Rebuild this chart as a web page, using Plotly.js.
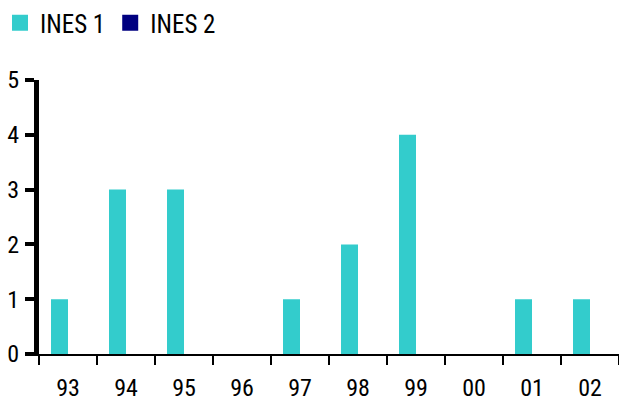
<!DOCTYPE html>
<html>
<head>
<meta charset="utf-8">
<script src="https://cdn.plot.ly/plotly-3.0.1.min.js"></script>
<style>html,body{margin:0;padding:0;background:#fff;}#chart{width:619px;height:405px;}</style>
</head>
<body>
<div id="chart"></div>
<script>
var years = ["93","94","95","96","97","98","99","00","01","02"];
var ines1 = [1,3,3,0,1,2,4,0,1,1];
var ines2 = [0,0,0,0,0,0,0,0,0,0];
var seriesNames = ["INES 1","INES 2"];
var colors = ["#33CCCC","#000080"];
var yTicks = [0,1,2,3,4,5];

var FONT = '"Liberation Sans Narrow", "Roboto Condensed", "DejaVu Sans Condensed", sans-serif';

var data = [
  {type:'bar', name:seriesNames[0], x:years, y:ines1, marker:{color:colors[0]}, showlegend:false},
  {type:'bar', name:seriesNames[1], x:years, y:ines2, marker:{color:colors[1]}, showlegend:false},
  {type:'scatter', mode:'markers', name:seriesNames[0], x:[null], y:[null], marker:{symbol:'square', size:17, color:colors[0]}, showlegend:true, hoverinfo:'skip'},
  {type:'scatter', mode:'markers', name:seriesNames[1], x:[null], y:[null], marker:{symbol:'square', size:17, color:colors[1]}, showlegend:true, hoverinfo:'skip'}
];

var layout = {
  width:619, height:405,
  margin:{l:39, r:0, t:80, b:51, pad:0},
  paper_bgcolor:'#fff', plot_bgcolor:'#fff',
  font:{family:FONT, size:24, color:'#000'},
  barmode:'group', bargap:0.414, bargroupgap:0,
  showlegend:true,
  legend:{orientation:'h', xref:'container', yref:'container', x:0, y:1, xanchor:'left', yanchor:'top',
          itemsizing:'trace', itemwidth:30,
          font:{family:FONT, size:25, color:'#000'}, itemclick:false, traceorder:'normal', bgcolor:'rgba(0,0,0,0)'},
  xaxis:{type:'category', categoryarray:years, range:[-0.5,9.5], tickson:'boundaries', ticks:'outside', ticklen:9, tickwidth:2, tickcolor:'#000',
         showline:true, linecolor:'#000', linewidth:2, showgrid:false, zeroline:false,
         ticklabelstandoff:11, tickfont:{family:FONT, size:24, color:'#000'}},
  yaxis:{range:[0,5], tickvals:yTicks, ticktext:yTicks.map(String), ticks:'outside', ticklen:9, tickwidth:4, tickcolor:'#000',
         showline:true, linecolor:'#000', linewidth:5, showgrid:false, zeroline:false,
         ticklabelstandoff:1, tickfont:{family:FONT, size:24, color:'#000'}}
};

Plotly.newPlot('chart', data, layout, {displayModeBar:false, staticPlot:true});
</script>
</body>
</html>
